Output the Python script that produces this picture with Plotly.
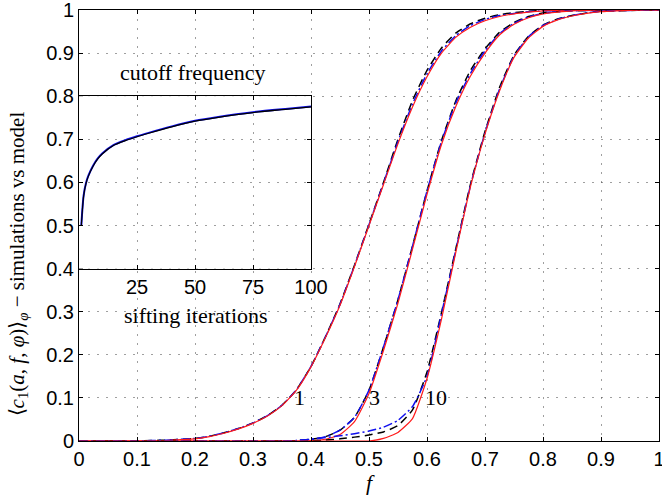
import plotly.graph_objects as go

# ---- main panel: <c1(a,f,phi)>_phi versus f for 1, 3 and 10 sifting iterations ----
f_grid = [0.000, 0.025, 0.050, 0.075, 0.100, 0.125, 0.150, 0.175, 0.200, 0.225,
          0.250, 0.275, 0.300, 0.325, 0.350, 0.375, 0.400, 0.425, 0.450, 0.475,
          0.500, 0.525, 0.550, 0.575, 0.600, 0.625, 0.650, 0.675, 0.700, 0.725,
          0.750, 0.775, 0.800, 0.825, 0.850, 0.875, 0.900, 0.925, 0.950, 0.975, 1.000]

# 1 sifting iteration
model_1 = [0, 0, 0, 0, 0, 0.0005, 0.001, 0.003, 0.005, 0.010,
           0.018, 0.028, 0.041, 0.058, 0.082, 0.118, 0.172, 0.240, 0.315, 0.405,
           0.500, 0.595, 0.690, 0.775, 0.845, 0.900, 0.937, 0.960, 0.975, 0.985,
           0.991, 0.995, 0.998, 0.999, 1, 1, 1, 1, 1, 1, 1]
sim_dash_1 = [0, 0, 0, 0, 0, 0.001, 0.002, 0.004, 0.006, 0.011,
              0.019, 0.029, 0.042, 0.059, 0.083, 0.119, 0.173, 0.242, 0.318, 0.408,
              0.503, 0.600, 0.700, 0.790, 0.860, 0.912, 0.947, 0.968, 0.981, 0.989,
              0.994, 0.997, 0.999, 1, 1, 1, 1, 1, 1, 1, 1]
sim_dashdot_1 = [0, 0, 0, 0, 0, 0.001, 0.002, 0.004, 0.006, 0.011,
                 0.019, 0.029, 0.042, 0.059, 0.083, 0.119, 0.173, 0.242, 0.317, 0.407,
                 0.502, 0.598, 0.695, 0.782, 0.852, 0.905, 0.941, 0.964, 0.978, 0.987,
                 0.992, 0.996, 0.998, 0.999, 1, 1, 1, 1, 1, 1, 1]

# 3 sifting iterations
model_3 = [0, 0, 0, 0, 0, 0, 0, 0, 0, 0,
           0, 0, 0, 0, 0, 0, 0.001, 0.004, 0.015, 0.045,
           0.110, 0.210, 0.320, 0.445, 0.572, 0.688, 0.777, 0.847, 0.900, 0.942,
           0.967, 0.982, 0.991, 0.995, 0.998, 0.999, 1, 1, 1, 1, 1]
sim_dash_3 = [0, 0, 0, 0, 0, 0, 0, 0, 0, 0,
              0, 0, 0, 0, 0, 0.001, 0.004, 0.010, 0.025, 0.055,
              0.118, 0.218, 0.328, 0.452, 0.580, 0.697, 0.790, 0.860, 0.910, 0.948,
              0.971, 0.985, 0.993, 0.996, 0.998, 0.999, 1, 1, 1, 1, 1]
sim_dashdot_3 = [0, 0, 0, 0, 0, 0, 0, 0, 0, 0,
                 0, 0, 0, 0, 0, 0.001, 0.004, 0.010, 0.025, 0.055,
                 0.118, 0.218, 0.328, 0.452, 0.580, 0.695, 0.785, 0.853, 0.905, 0.945,
                 0.969, 0.984, 0.992, 0.996, 0.998, 0.999, 1, 1, 1, 1, 1]

# 10 sifting iterations
model_10 = [0, 0, 0, 0, 0, 0, 0, 0, 0, 0,
            0, 0, 0, 0, 0, 0, 0, 0, 0, 0,
            0, 0.006, 0.020, 0.052, 0.145, 0.283, 0.440, 0.590, 0.712, 0.812,
            0.890, 0.935, 0.962, 0.977, 0.986, 0.992, 0.996, 0.998, 0.999, 1, 1]
sim_dash_10 = [0, 0, 0, 0, 0, 0, 0, 0, 0, 0,
               0, 0, 0, 0, 0, 0, 0, 0.002, 0.005, 0.009,
               0.014, 0.021, 0.036, 0.072, 0.160, 0.298, 0.448, 0.596, 0.718, 0.820,
               0.895, 0.939, 0.965, 0.979, 0.987, 0.993, 0.997, 0.998, 0.999, 1, 1]
sim_dashdot_10 = [0, 0, 0, 0, 0, 0, 0, 0, 0, 0,
                  0, 0, 0, 0, 0, 0.001, 0.004, 0.008, 0.012, 0.017,
                  0.023, 0.032, 0.048, 0.080, 0.150, 0.295, 0.445, 0.593, 0.715, 0.816,
                  0.893, 0.938, 0.964, 0.978, 0.987, 0.993, 0.997, 0.998, 0.999, 1, 1]

curve_labels = ["1", "3", "10"]
curve_label_f = [0.381, 0.510, 0.616]
curve_label_c = [0.10, 0.10, 0.10]

# ---- inset: cutoff frequency versus number of sifting iterations ----
iterations = [1, 2, 3, 4, 6, 8, 10, 15, 20, 25, 30, 40, 50, 60, 75, 90, 100]
cutoff_sim = [0.500, 0.570, 0.598, 0.615, 0.638, 0.655, 0.667, 0.687, 0.698, 0.707, 0.715,
              0.730, 0.743, 0.752, 0.763, 0.771, 0.776]
cutoff_model = [0.500, 0.568, 0.597, 0.614, 0.637, 0.654, 0.666, 0.686, 0.697, 0.706, 0.714,
                0.729, 0.742, 0.751, 0.762, 0.770, 0.775]

RED = "#ff1a1a"
BLUE = "#1010ee"
BLACK = "#000000"
DASH = "8px,5px"
DASHDOT = "9px,3px,2px,3px"

fig = go.Figure()

for sd, sdd, mo in [(sim_dash_1, sim_dashdot_1, model_1),
                    (sim_dash_3, sim_dashdot_3, model_3),
                    (sim_dash_10, sim_dashdot_10, model_10)]:
    fig.add_trace(go.Scatter(x=f_grid, y=sd, mode="lines", showlegend=False,
                             line=dict(color=BLACK, width=1.5, dash=DASH, shape="spline", smoothing=0.5)))
    fig.add_trace(go.Scatter(x=f_grid, y=sdd, mode="lines", showlegend=False,
                             line=dict(color=BLUE, width=1.5, dash=DASHDOT, shape="spline", smoothing=0.5)))
    fig.add_trace(go.Scatter(x=f_grid, y=mo, mode="lines", showlegend=False,
                             line=dict(color=RED, width=1.2, shape="spline", smoothing=0.5)))

fig.add_trace(go.Scatter(x=iterations, y=cutoff_sim, mode="lines", showlegend=False,
                         xaxis="x2", yaxis="y2",
                         line=dict(color=BLUE, width=2, shape="spline", smoothing=0.8)))
fig.add_trace(go.Scatter(x=iterations, y=cutoff_model, mode="lines", showlegend=False,
                         xaxis="x2", yaxis="y2",
                         line=dict(color=BLACK, width=1.2, shape="spline", smoothing=0.8)))

TICK_FONT = dict(family="Liberation Sans, Arial, sans-serif", size=20, color="black")
SERIF = "Liberation Serif, Times New Roman, serif"
GRID = dict(showgrid=True, gridcolor="rgba(80,80,80,0.55)", gridwidth=1, griddash="2px,7px")

axis_common = dict(showline=True, linecolor="black", linewidth=1, mirror="ticks",
                   ticks="inside", ticklen=4, tickcolor="black", zeroline=False,
                   tickfont=TICK_FONT, ticklabeloverflow="allow", automargin=False, **GRID)

annotations = [
    dict(x=x, y=y, text=t, xref="x", yref="y", showarrow=False,
         font=dict(family=SERIF, size=22, color="black"))
    for t, x, y in zip(curve_labels, curve_label_f, curve_label_c)
]
annotations += [
    dict(x=0.1966, y=0.854, xref="x", yref="y", text="cutoff frequency", showarrow=False,
         font=dict(family=SERIF, size=22, color="black")),
    dict(x=0.2017, y=0.292, xref="x", yref="y", text="sifting iterations", showarrow=False,
         font=dict(family=SERIF, size=22, color="black")),
    dict(x=-0.105, y=0.41, xref="paper", yref="paper", textangle=-90, showarrow=False,
         xanchor="center", yanchor="middle",
         text="⟨<i>c</i><sub>1</sub>(<i>a</i>, <i>f</i>, <i>φ</i>)⟩<sub><i>φ</i></sub> − simulations vs model",
         font=dict(family=SERIF, size=21, color="black")),
]

fig.update_layout(
    width=662, height=503,
    margin=dict(l=79, r=3, t=10, b=62, autoexpand=False),
    paper_bgcolor="white", plot_bgcolor="white",
    showlegend=False,
    xaxis=dict(range=[0, 1], dtick=0.1, tick0=0, domain=[0, 1], anchor="y",
               title=dict(text="<i>f</i>", font=dict(family=SERIF, size=22, color="black"), standoff=4),
               **axis_common),
    yaxis=dict(range=[0, 1], dtick=0.1, tick0=0, domain=[0, 1], anchor="x", **axis_common),
    xaxis2=dict(range=[0, 100], tickvals=[25, 50, 75, 100], domain=[0, 0.4], anchor="y2",
                **axis_common),
    yaxis2=dict(range=[0.4, 0.8], dtick=0.1, tick0=0.4, domain=[0.4, 0.8], anchor="x2",
                showticklabels=False, **axis_common),
    annotations=annotations,
)

fig.write_html("out.html")
